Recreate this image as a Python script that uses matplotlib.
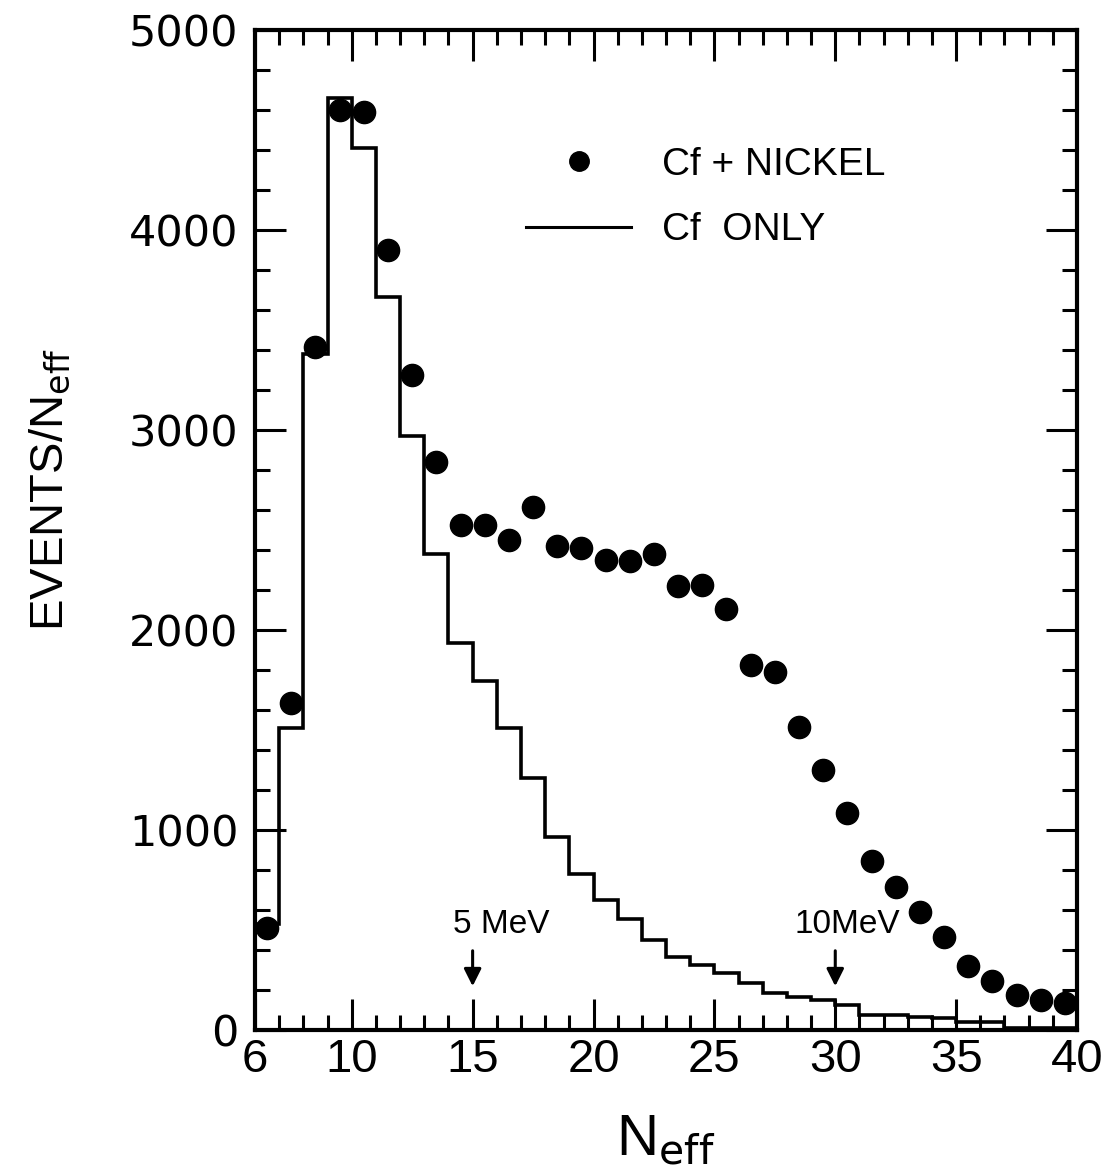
import matplotlib
matplotlib.use("Agg")
import matplotlib.pyplot as plt
from matplotlib.lines import Line2D
from matplotlib.ticker import MultipleLocator

# bornes des canaux N_eff
bords = list(range(6, 41))
centres = [b + 0.5 for b in bords[:-1]]

# Cf seul (histogramme en escalier)
cf_seul = [530, 1510, 3380, 4660, 4410, 3665, 2970, 2380, 1935, 1745,
           1510, 1260, 965, 780, 650, 555, 450, 365, 325, 285,
           235, 185, 167, 150, 125, 75, 75, 65, 60, 40,
           40, 10, 10, 10]

# Cf + nickel (points)
cf_nickel = [510, 1635, 3415, 4600, 4590, 3900, 3275, 2840, 2525, 2525,
             2450, 2615, 2420, 2410, 2350, 2345, 2380, 2220, 2225, 2105,
             1825, 1790, 1515, 1300, 1085, 845, 715, 590, 465, 320,
             245, 175, 150, 135]

# marqueurs d'energie
fleches_x = [15, 30]
fleches_txt = ["5 MeV", "10MeV"]

etroit = ["Liberation Sans", "DejaVu Sans"]

fig = plt.figure(figsize=(11.06, 11.71), dpi=100)
ax = fig.add_axes([0.2306, 0.1204, 0.7432, 0.854])

ax.stairs(cf_seul, bords, color="black", lw=2.6)
ax.plot(centres, cf_nickel, "o", color="black", ms=16, clip_on=False)

for xf, txt, dx in zip(fleches_x, fleches_txt, [1.2, 0.5]):
    ax.annotate("", xy=(xf, 205), xytext=(xf, 410),
                arrowprops=dict(arrowstyle="-|>", color="black", lw=2.2,
                                mutation_scale=26))
    ax.text(xf + dx, 530, txt, ha="center", va="center", fontsize=24,
            family=etroit)

ax.set_xlim(6, 40)
ax.set_ylim(0, 5000)
ax.xaxis.set_major_locator(MultipleLocator(5))
ax.xaxis.set_minor_locator(MultipleLocator(1))
ax.yaxis.set_major_locator(MultipleLocator(1000))
ax.yaxis.set_minor_locator(MultipleLocator(200))
ax.set_xticks([6, 10, 15, 20, 25, 30, 35, 40])

ax.tick_params(which="both", direction="in", top=True, right=True, width=2.2)
ax.tick_params(which="major", length=22)
ax.tick_params(which="minor", length=11)
ax.tick_params(axis="x", labelsize=34, pad=6)
ax.tick_params(axis="y", labelsize=31, pad=12)
for lab in ax.get_xticklabels():
    lab.set_family(etroit)
for sp in ax.spines.values():
    sp.set_linewidth(3)

ax.set_xlabel("N$_{\\rm eff}$", fontsize=42, family=etroit, labelpad=22)
ax.set_ylabel("EVENTS/N$_{\\rm eff}$", fontsize=34, family=etroit)
ax.yaxis.set_label_coords(-0.222, 0.54)

poignees = [Line2D([], [], ls="none", marker="o", color="black", ms=14),
            Line2D([], [], color="black", lw=2.2)]
leg = ax.legend(poignees, ["Cf + NICKEL", "Cf  ONLY"], loc="upper left",
                bbox_to_anchor=(0.33, 0.883), frameon=False, handlelength=2.7,
                handletextpad=0.8, labelspacing=0.75, borderpad=0,
                borderaxespad=0, prop={"family": etroit, "size": 28})

fig.savefig("out.png", dpi=100)
